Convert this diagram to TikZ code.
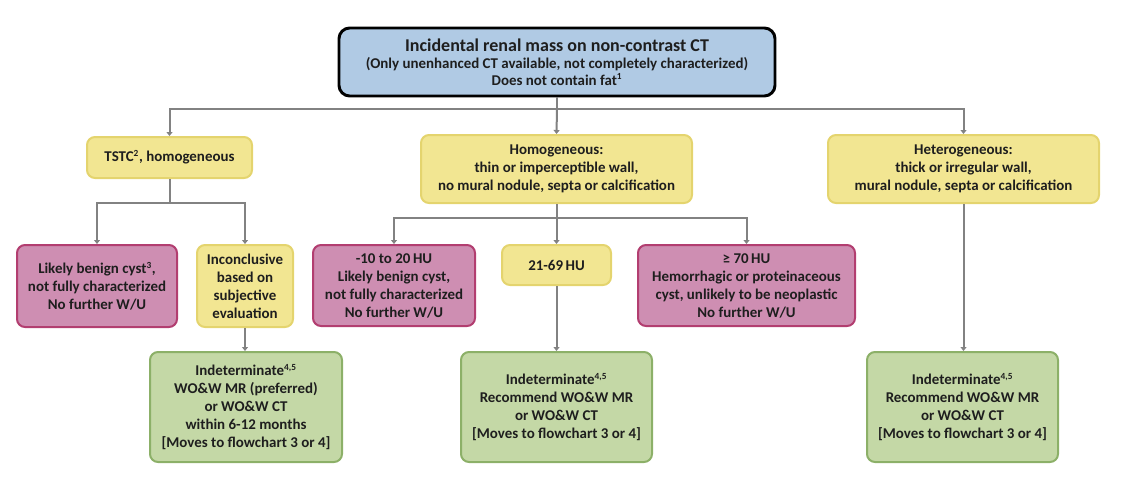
\documentclass[tikz,border=0pt]{standalone}
\usepackage{fontspec}
\setmainfont{Carlito}
\usetikzlibrary{arrows.meta}
\definecolor{bluefill}{RGB}{176,202,228}
\definecolor{yelfill}{RGB}{242,230,146}
\definecolor{yeldraw}{RGB}{228,212,110}
\definecolor{magfill}{RGB}{206,142,178}
\definecolor{magdraw}{RGB}{178,62,112}
\definecolor{grnfill}{RGB}{196,216,166}
\definecolor{grndraw}{RGB}{140,176,104}
\definecolor{conncol}{RGB}{130,130,130}
\definecolor{txtcol}{RGB}{30,30,30}
\newcommand{\supx}[1]{\textsuperscript{\fontsize{7}{7}\selectfont #1}}
\tikzset{
  boxbase/.style={rectangle, rounded corners=6pt, line width=1.5pt, align=center, inner sep=0pt,
    font=\bfseries\fontsize{11.2}{13.5}\selectfont, text=txtcol},
  topbox/.style={boxbase, fill=bluefill, draw=black, line width=2.2pt, rounded corners=8pt,
    font=\bfseries\fontsize{11.2}{12.75}\selectfont},
  yelbox/.style={boxbase, fill=yelfill, draw=yeldraw},
  magbox/.style={boxbase, fill=magfill, draw=magdraw},
  grnbox/.style={boxbase, fill=grnfill, draw=grndraw},
  conn/.style={draw=conncol, line width=1.5pt},
  arr/.style={conn, -{Triangle[width=4.5pt,length=3pt]}},
}
\begin{document}
\begin{tikzpicture}[x=0.75pt,y=-0.75pt]
\useasboundingbox (0,0) rectangle (1123,483);
% nodes
\node[topbox, minimum width=327pt, minimum height=51pt] (top) at (557,62)
  {{\fontsize{13.5}{12.75}\selectfont Incidental renal mass on non-contrast CT}\\
   (Only unenhanced CT available, not completely characterized)\\
   Does not contain fat\supx{1}};
\node[yelbox, minimum width=123.75pt, minimum height=30.75pt] (tstc) at (169.5,157.5)
  {TSTC\supx{2}, homogeneous};
\node[yelbox, minimum width=203.25pt, minimum height=51pt] (hom) at (556.5,169)
  {Homogeneous:\\thin or imperceptible wall,\\no mural nodule, septa or calcification};
\node[yelbox, minimum width=203.25pt, minimum height=51pt] (het) at (963.5,169)
  {Heterogeneous:\\thick or irregular wall,\\mural nodule, septa or calcification};
\node[magbox, minimum width=120pt, minimum height=61.5pt] (lb) at (97,286)
  {Likely benign cyst\supx{3},\\not fully characterized\\No further W/U};
\node[yelbox, minimum width=72pt, minimum height=61.5pt] (inc) at (245,286)
  {Inconclusive\\based on\\subjective\\evaluation};
\node[magbox, minimum width=121.5pt, minimum height=60.75pt] (m10) at (394,285.5)
  {-10 to 20\,HU\\Likely benign cyst,\\not fully characterized\\No further W/U};
\node[yelbox, minimum width=81.75pt, minimum height=30pt] (mid) at (556.5,265)
  {21-69\,HU};
\node[magbox, minimum width=162.75pt, minimum height=60.75pt] (hi) at (746.5,285.5)
  {≥ 70\,HU\\Hemorrhagic or proteinaceous\\cyst, unlikely to be neoplastic\\No further W/U};
\node[grnbox, minimum width=144pt, minimum height=82.5pt] (g1) at (246,407)
  {Indeterminate\supx{4,5}\\WO\&W MR (preferred)\\or WO\&W CT\\within 6-12 months\\{[}Moves to flowchart 3 or 4{]}};
\node[grnbox, minimum width=143.25pt, minimum height=82.5pt] (g2) at (556.5,407)
  {Indeterminate\supx{4,5}\\Recommend WO\&W MR\\or WO\&W CT\\{[}Moves to flowchart 3 or 4{]}};
\node[grnbox, minimum width=143.25pt, minimum height=82.5pt] (g3) at (962.5,407)
  {Indeterminate\supx{4,5}\\Recommend WO\&W MR\\or WO\&W CT\\{[}Moves to flowchart 3 or 4{]}};
% junctions
\coordinate (j1) at (557,109);
\coordinate (j2) at (169.5,203);
\coordinate (j3) at (556.5,218);
% connectors
\draw[conn] (top.south) -- (j1);
\draw[arr] (j1) -| (tstc.north);
\draw[arr] (j1) -- (hom.north);
\draw[arr] (j1) -| (het.north);
\draw[conn] (tstc.south) -- (j2);
\draw[arr] (j2) -| (lb.north);
\draw[arr] (j2) -| (inc.north);
\draw[arr] (inc.south) -- (inc.south |- g1.north);
\draw[conn] (hom.south) -- (j3);
\draw[arr] (j3) -| (m10.north);
\draw[arr] (j3) -- (mid.north);
\draw[arr] (j3) -| (hi.north);
\draw[arr] (mid.south) -- (g2.north);
\draw[arr] (het.south) -- (het.south |- g3.north);
\end{tikzpicture}
\end{document}
